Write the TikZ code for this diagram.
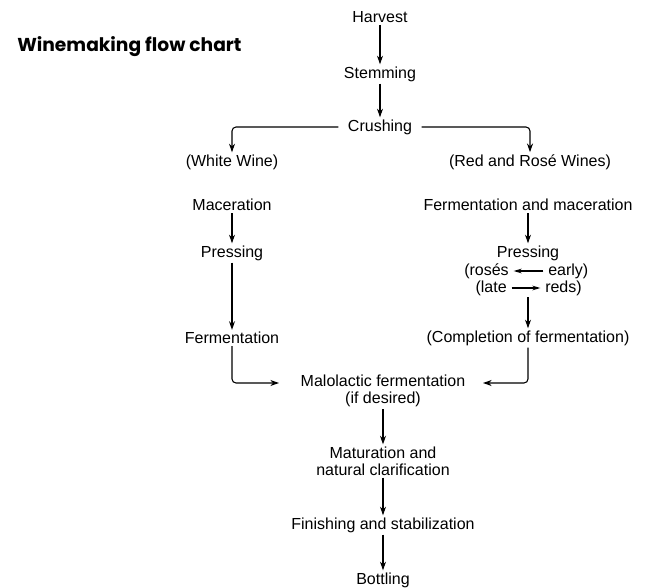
\documentclass[tikz,border=0pt]{standalone}
\usepackage{fontspec}
\setmainfont{Liberation Sans}
\newfontfamily\titlefont{Poppins}
\usetikzlibrary{arrows.meta}

\begin{document}
\begin{tikzpicture}[x=0.75pt,y=-0.75pt,>={Stealth[length=6.5pt,width=4.5pt]},
  every node/.style={font=\fontsize{12}{12.75}\selectfont,align=center,inner sep=1.5pt},
  link/.style={->,line width=0.8pt,rounded corners=3pt},
  tiny/.style={-{Stealth[length=6pt,width=3.5pt]},line width=0.8pt,shorten >=2pt,shorten <=2pt}]
  \useasboundingbox (0,0) rectangle (649,588);

  \node[anchor=west,font=\titlefont\bfseries\fontsize{14}{16}\selectfont] (title) at (15,47) {Winemaking flow chart};

  \node (harv)   at (380,17)  {Harvest};
  \node (stem)   at (380,74)  {Stemming};
  \node[inner xsep=7pt] (crush) at (380,127) {Crushing};

  \node (white)   at (232,162) {(White Wine)};
  \node (redrose) at (530,162) {(Red and Rosé Wines)};

  \node (macer) at (232,205) {Maceration};
  \node (presl) at (232,253) {Pressing};
  \node (ferml) at (232,338) {Fermentation};

  \node (fermmac) at (528,205) {Fermentation and maceration};
  \node (presr)   at (528,253) {Pressing};
  \node[anchor=east] (roses) at (511,271) {(rosés};
  \node[anchor=west] (early) at (546,271) {early)};
  \node[anchor=east] (late)  at (509,288) {(late};
  \node[anchor=west] (reds)  at (543,288) {reds)};
  \coordinate (presrbot) at (528,297);
  \node (compl) at (528,338) {(Completion of fermentation)};

  \node (malo)   at (383,391) {Malolactic fermentation\\(if desired)};
  \coordinate (maloleft)  at (279,383);
  \coordinate (maloright) at (483,383);
  \node (matur)  at (383,461) {Maturation and\\natural clarification};
  \node (finish) at (383,525) {Finishing and stabilization};
  \node (bott)   at (383,580) {Bottling};

  \path[link]
    (harv)  edge (stem)
    (stem)  edge (crush)
    (macer) edge (presl)
    (presl) edge (ferml)
    (fermmac) edge (presr)
    (presrbot) edge (compl)
    (malo)  edge (matur)
    (matur) edge (finish)
    (finish) edge (bott);

  \draw[link] (crush.west) -| (white);
  \draw[link] (crush.east) -| (redrose);
  \draw[link] (ferml) |- (maloleft);
  \draw[link] (compl) |- (maloright);

  \draw[tiny] (early) -- (roses);
  \draw[tiny] (late) -- (reds);
\end{tikzpicture}
\end{document}
